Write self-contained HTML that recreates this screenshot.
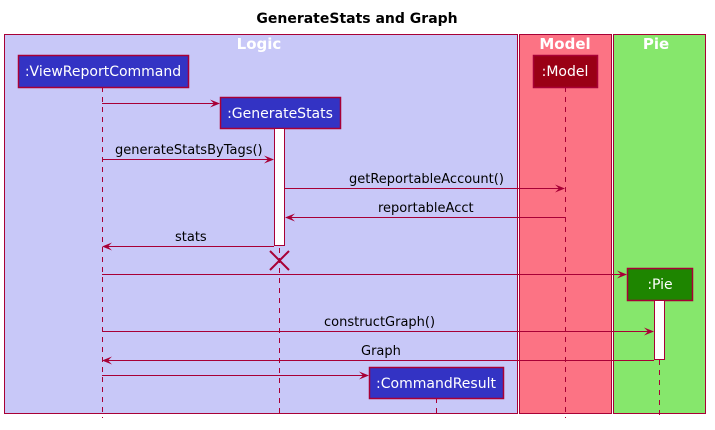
<!DOCTYPE html>
<html><head><meta charset="utf-8"><style>
html,body{margin:0;padding:0;background:#fff;}
svg{display:block;}
text{font-family:"DejaVu Sans","Liberation Sans",sans-serif;}
</style></head><body>
<svg width="715" height="430" viewBox="0 0 715 430" xmlns="http://www.w3.org/2000/svg">
<text x="357" y="23" text-anchor="middle" font-size="14" font-weight="bold" fill="#000">GenerateStats and Graph</text>
<rect x="4.5" y="34.5" width="513" height="379" fill="#C8C8F8" stroke="#A80036" stroke-width="1"/>
<rect x="519.5" y="34.5" width="92" height="379" fill="#FC7384" stroke="#A80036" stroke-width="1"/>
<rect x="613.5" y="34.5" width="92" height="379" fill="#86E76C" stroke="#A80036" stroke-width="1"/>
<text x="259" y="49" text-anchor="middle" font-size="15" font-weight="bold" fill="#fff">Logic</text>
<text x="565" y="49" text-anchor="middle" font-size="15" font-weight="bold" fill="#fff">Model</text>
<text x="656" y="49" text-anchor="middle" font-size="15" font-weight="bold" fill="#fff">Pie</text>
<g stroke="#A80036" stroke-width="1" stroke-dasharray="5,5" fill="none">
<line x1="102.5" y1="87" x2="102.5" y2="418"/>
<line x1="279.5" y1="128" x2="279.5" y2="418"/>
<line x1="565.5" y1="87" x2="565.5" y2="418"/>
<line x1="659.5" y1="300" x2="659.5" y2="418"/>
<line x1="436.5" y1="398" x2="436.5" y2="418"/>
</g>
<rect x="18.5" y="55.5" width="170" height="32" fill="#3333C4" stroke="#A80036" stroke-width="1.5"/>
<text x="103" y="76" text-anchor="middle" font-size="14" fill="#fff">:ViewReportCommand</text>
<rect x="220.5" y="97.5" width="120" height="31" fill="#3333C4" stroke="#A80036" stroke-width="1.5"/>
<text x="280" y="118" text-anchor="middle" font-size="14" fill="#fff">:GenerateStats</text>
<rect x="533.5" y="55.5" width="64" height="32" fill="#9A0015" stroke="#A80036" stroke-width="1.5"/>
<text x="565" y="76" text-anchor="middle" font-size="14" fill="#fff">:Model</text>
<rect x="627.5" y="268.5" width="65" height="32" fill="#1E8500" stroke="#A80036" stroke-width="1.5"/>
<text x="660" y="289" text-anchor="middle" font-size="14" fill="#fff">:Pie</text>
<rect x="369.5" y="367.5" width="134" height="31" fill="#3333C4" stroke="#A80036" stroke-width="1.5"/>
<text x="436" y="388" text-anchor="middle" font-size="14" fill="#fff">:CommandResult</text>
<rect x="274.5" y="128.5" width="10" height="117" fill="#fff" stroke="#A80036"/>
<rect x="654.5" y="300.5" width="10" height="59" fill="#fff" stroke="#A80036"/>
<g stroke="#A80036" stroke-width="2"><line x1="270" y1="251" x2="289" y2="270"/><line x1="289" y1="251" x2="270" y2="270"/></g>
<g stroke="#A80036" stroke-width="1">
<line x1="102" y1="103.5" x2="218" y2="103.5"/>
<line x1="102" y1="159.5" x2="272" y2="159.5"/>
<line x1="285" y1="188.5" x2="563" y2="188.5"/>
<line x1="287" y1="217.5" x2="565" y2="217.5"/>
<line x1="104" y1="246.5" x2="274" y2="246.5"/>
<line x1="102" y1="274.5" x2="625" y2="274.5"/>
<line x1="102" y1="331.5" x2="652" y2="331.5"/>
<line x1="104" y1="360.5" x2="654" y2="360.5"/>
<line x1="102" y1="375.5" x2="367" y2="375.5"/>
</g>
<g fill="#A80036">
<polygon points="220,103.5 210,99.5 214,103.5 210,107.5"/>
<polygon points="274,159.5 264,155.5 268,159.5 264,163.5"/>
<polygon points="565,188.5 555,184.5 559,188.5 555,192.5"/>
<polygon points="285,217.5 295,213.5 291,217.5 295,221.5"/>
<polygon points="102,246.5 112,242.5 108,246.5 112,250.5"/>
<polygon points="627,274.5 617,270.5 621,274.5 617,278.5"/>
<polygon points="654,331.5 644,327.5 648,331.5 644,335.5"/>
<polygon points="102,360.5 112,356.5 108,360.5 112,364.5"/>
<polygon points="369,375.5 359,371.5 363,375.5 359,379.5"/>
</g>
<g font-size="13" fill="#000">
<text x="115" y="154">generateStatsByTags()</text>
<text x="349" y="183">getReportableAccount()</text>
<text x="378" y="212">reportableAcct</text>
<text x="175" y="241">stats</text>
<text x="324" y="326">constructGraph()</text>
<text x="361" y="355">Graph</text>
</g>
</svg>
</body></html>
